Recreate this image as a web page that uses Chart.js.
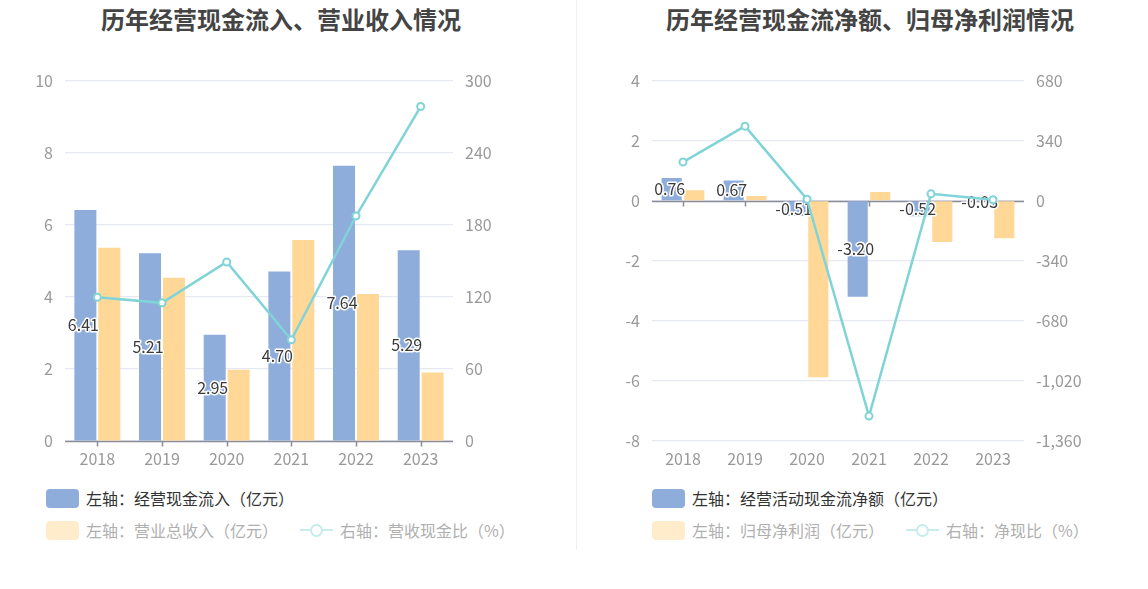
<!DOCTYPE html>
<html>
<head>
<meta charset="utf-8">
<script src="https://cdn.jsdelivr.net/npm/chart.js@4/dist/chart.umd.min.js"></script>
<style>
  body { margin: 0; background: #fff; font-family: "Noto Sans CJK SC", "Noto Sans", sans-serif; }
  #page { position: relative; width: 1148px; height: 589px; overflow: hidden; background: #fff; }
  .title { position: absolute; top: 1px; font-size: 24px; font-weight: bold; color: #444; white-space: nowrap; transform: translateX(-50%); }
  .box { position: absolute; top: 59px; width: 574px; height: 421px; }
  .sep { position: absolute; left: 576px; top: 0; width: 1px; height: 550px; background: #f0f0f0; }
  .leg { position: absolute; display: flex; align-items: center; font-size: 16px; white-space: nowrap; }
  .sw { width: 33px; height: 19px; border-radius: 4px; margin-right: 7px; }
  .ln { position: relative; width: 33px; height: 19px; margin-right: 7px; }
  .ln:before { content: ""; position: absolute; left: 0; right: 0; top: 8px; height: 2px; background: #c6ecee; }
  .ln:after { content: ""; position: absolute; left: 10px; top: 3px; width: 9px; height: 9px; border: 2px solid #c6ecee; border-radius: 50%; background: #fff; }
</style>
</head>
<body>
<div id="page">
  <div class="title" style="left:281px">历年经营现金流入、营业收入情况</div>
  <div class="title" style="left:870px">历年经营现金流净额、归母净利润情况</div>
  <div class="sep"></div>
  <div class="box" style="left:0"><canvas id="c1"></canvas></div>
  <div class="box" style="left:574px"><canvas id="c2"></canvas></div>
  <div id="legends"></div>
</div>
<script>
// 年份
const years = ['2018', '2019', '2020', '2021', '2022', '2023'];

// 左图：经营现金流入 / 营业总收入 (亿元)，营收现金比 (%)
const cashInflow = [6.41, 5.21, 2.95, 4.70, 7.64, 5.29];
const revenue = [5.36, 4.53, 1.98, 5.58, 4.08, 1.90];
const cashRevenueRatio = [119.6, 115.0, 149.0, 84.2, 187.3, 278.4];

// 右图：经营活动现金流净额 / 归母净利润 (亿元)，净现比 (%)
const netCashFlow = [0.76, 0.67, -0.51, -3.20, -0.52, -0.03];
const netProfit = [0.35, 0.16, -5.88, 0.29, -1.37, -1.25];
const netCashRatio = [219, 422, 9, -1219, 39, 5];

// 坐标轴刻度
const leftTicks1 = [0, 2, 4, 6, 8, 10];
const rightTicks1 = [0, 60, 120, 180, 240, 300];
const leftTicks2 = [-8, -6, -4, -2, 0, 2, 4];
const rightTicks2 = [-1360, -1020, -680, -340, 0, 340, 680];

const legend1 = ['左轴：经营现金流入（亿元）', '左轴：营业总收入（亿元）', '右轴：营收现金比（%）'];
const legend2 = ['左轴：经营活动现金流净额（亿元）', '左轴：归母净利润（亿元）', '右轴：净现比（%）'];

const BLUE = '#8fadda';
const YELLOW = '#ffd898';
const TEAL = '#80d4d8';
const FONT = '"Noto Sans CJK SC", "Noto Sans", sans-serif';

// 零轴线 + 刻度线
const zeroAxis = {
    id: 'zeroAxis',
    beforeDatasetsDraw(chart) {
        const ctx = chart.ctx;
        const area = chart.chartArea;
        const y = Math.round(chart.scales.y.getPixelForValue(0)) + 0.5;
        ctx.save();
        ctx.strokeStyle = '#8a8d96';
        ctx.lineWidth = 1.5;
        ctx.beginPath();
        ctx.moveTo(area.left, y);
        ctx.lineTo(area.right, y);
        years.forEach((v, i) => {
            const x = Math.round(chart.scales.x.getPixelForValue(i)) + 0.5;
            ctx.moveTo(x, y);
            ctx.lineTo(x, y + 5);
        });
        ctx.stroke();
        ctx.restore();
    }
};

// 柱子中间的数值标签（只给第一组柱）
const barLabels = {
    id: 'barLabels',
    afterDatasetDraw(chart, args) {
        if (args.index !== 0) return;
        const ctx = chart.ctx;
        ctx.save();
        ctx.font = '16px ' + FONT;
        ctx.textAlign = 'center';
        ctx.textBaseline = 'middle';
        ctx.lineJoin = 'round';
        args.meta.data.forEach((bar, i) => {
            const val = chart.data.datasets[0].data[i];
            const text = val.toFixed(2);
            const x = bar.x - 2;
            const y = (bar.y + bar.base) / 2;
            ctx.strokeStyle = '#fff';
            ctx.lineWidth = 3;
            ctx.strokeText(text, x, y);
            ctx.fillStyle = '#3a3a3a';
            ctx.fillText(text, x, y);
        });
        ctx.restore();
    }
};

function makeChart(id, bars1, bars2, line, lTicks, rTicks, leftW, rightW, catPct, barPct) {
    const tickFont = { family: FONT, size: 16 };
    return new Chart(document.getElementById(id), {
        type: 'bar',
        data: {
            labels: years,
            datasets: [
                { data: bars1, backgroundColor: BLUE, yAxisID: 'y', order: 1,
                  categoryPercentage: catPct, barPercentage: barPct },
                { data: bars2, backgroundColor: YELLOW, yAxisID: 'y', order: 2,
                  categoryPercentage: catPct, barPercentage: barPct },
                { type: 'line', data: line, yAxisID: 'y1', order: 0,
                  borderColor: TEAL, borderWidth: 2.5, tension: 0,
                  pointRadius: 3.5, pointBorderWidth: 2, pointBackgroundColor: '#fff',
                  pointBorderColor: TEAL }
            ]
        },
        options: {
            responsive: true,
            maintainAspectRatio: false,
            animation: false,
            layout: { padding: { top: 20 } },
            plugins: { legend: { display: false }, tooltip: { enabled: false } },
            scales: {
                x: {
                    grid: { display: false, drawTicks: false },
                    border: { display: false },
                    ticks: { color: '#999', font: tickFont, padding: 8 },
                    afterFit: s => { s.height = 39; }
                },
                y: {
                    position: 'left',
                    min: lTicks[0], max: lTicks[lTicks.length - 1],
                    afterBuildTicks: s => { s.ticks = lTicks.map(v => ({ value: v })); },
                    grid: { color: '#e6e9f3', drawTicks: false, lineWidth: 1.2 },
                    border: { display: false },
                    ticks: { color: '#999', font: tickFont, padding: 12 },
                    afterFit: s => { s.width = leftW; }
                },
                y1: {
                    position: 'right',
                    min: rTicks[0], max: rTicks[rTicks.length - 1],
                    afterBuildTicks: s => { s.ticks = rTicks.map(v => ({ value: v })); },
                    grid: { display: false, drawTicks: false },
                    border: { display: false },
                    ticks: { color: '#999', font: tickFont, padding: 12 },
                    afterFit: s => { s.width = rightW; }
                }
            }
        },
        plugins: [zeroAxis, barLabels]
    });
}

makeChart('c1', cashInflow, revenue, cashRevenueRatio, leftTicks1, rightTicks1, 65, 121, 0.74, 0.92);
makeChart('c2', netCashFlow, netProfit, netCashRatio, leftTicks2, rightTicks2, 78, 124, 0.73, 0.89);

// 图例
function addLegend(x, labels) {
    const wrap = document.getElementById('legends');
    const rows = [
        { top: 486, html: '<div class="sw" style="background:' + BLUE + '"></div><span style="color:#333">' + labels[0] + '</span>' },
        { top: 518, html: '<div class="sw" style="background:#ffecca"></div><span style="color:#b0b0b0">' + labels[1] + '</span>' +
            '<div class="ln" style="margin-left:22px"></div><span style="color:#b0b0b0">' + labels[2] + '</span>' }
    ];
    rows.forEach(r => {
        const d = document.createElement('div');
        d.className = 'leg';
        d.style.left = x + 'px';
        d.style.top = r.top + 'px';
        d.innerHTML = r.html;
        wrap.appendChild(d);
    });
}
addLegend(46, legend1);
addLegend(652, legend2);
</script>
</body>
</html>
